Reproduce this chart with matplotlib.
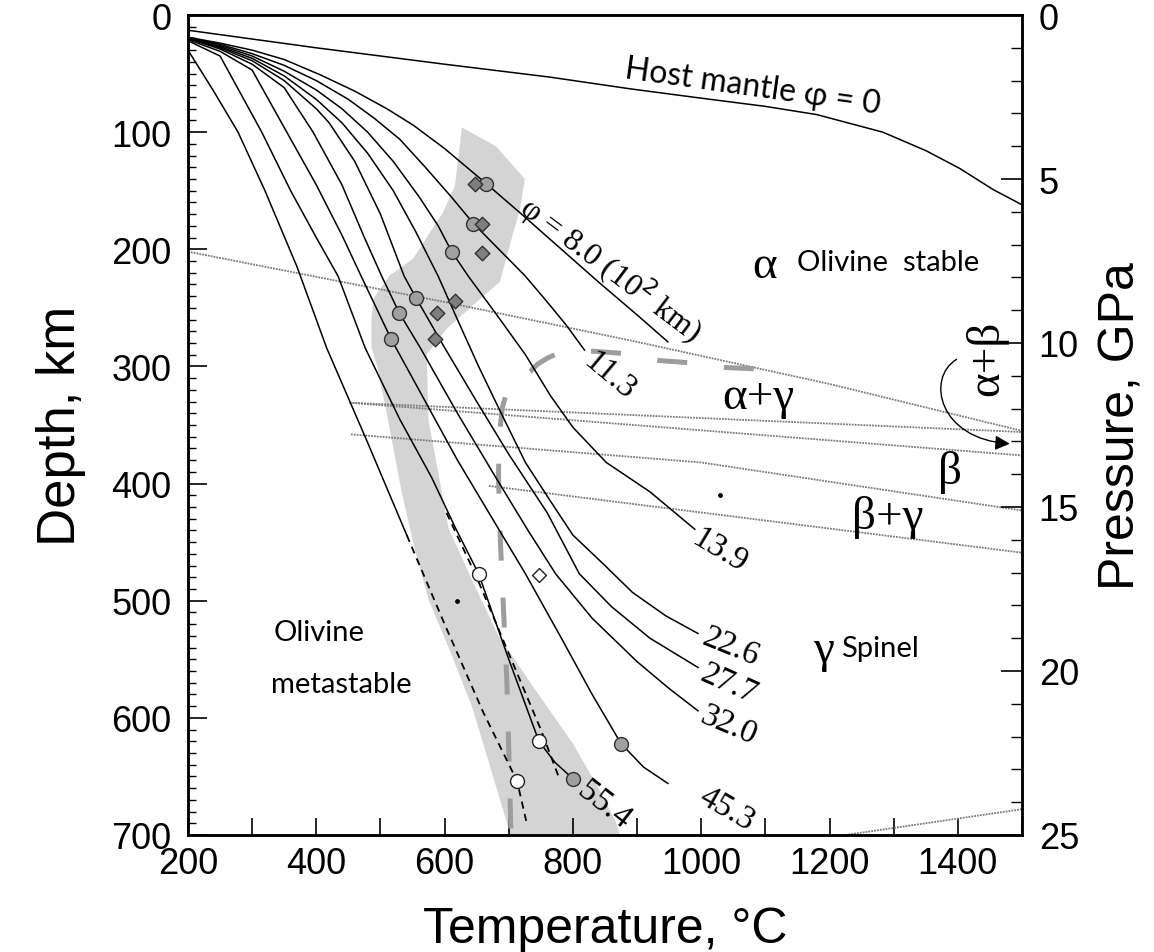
import matplotlib
matplotlib.use("Agg")
import matplotlib.pyplot as plt
from matplotlib.patches import Polygon, FancyArrowPatch
from matplotlib.path import Path

SANS = "Liberation Sans"
SERIF = "Liberation Serif"
HAND = "Lato"

# ---------------- data (Temperature degC, depth km) ----------------
host_T = [200, 400, 600, 764, 889, 1000, 1100, 1180, 1283, 1351, 1403, 1455, 1500]
host_z = [13, 28, 42, 53, 63, 71, 78, 85, 100, 116, 131, 149, 162]

phi_labels = ["8.0", "11.3", "13.9", "22.6", "27.7", "32.0", "45.3", "55.4"]
phi_T = [
    [200, 250, 300, 350, 406, 460, 510, 551, 600, 665, 720, 780, 840, 900, 948],
    [200, 250, 300, 350, 400, 450, 490, 530, 570, 610, 645, 690, 726, 760, 790, 818],
    [200, 250, 300, 350, 400, 440, 480, 520, 560, 590, 611, 637, 680, 726, 765, 800, 852, 920, 990],
    [200, 250, 300, 350, 400, 440, 480, 520, 555, 590, 620, 653, 690, 726, 765, 800, 850, 893, 945, 995],
    [200, 250, 300, 350, 400, 420, 460, 500, 537, 556, 600, 650, 700, 760, 810, 860, 920, 995],
    [200, 250, 300, 350, 395, 440, 475, 502, 529, 562, 620, 680, 730, 773, 830, 900, 950, 995],
    [200, 250, 300, 354, 400, 440, 470, 517, 560, 620, 680, 726, 780, 830, 875, 910, 948],
    [200, 250, 315, 360, 400, 434, 476, 530, 580, 617, 653, 700, 747, 772, 800],
]
phi_z = [
    [19, 24, 30, 38, 51, 65, 80, 94, 114, 144, 170, 199, 228, 256, 279],
    [19, 25, 33, 43, 56, 72, 88, 106, 130, 155, 178, 203, 223, 245, 265, 286],
    [19, 26, 35, 48, 64, 80, 100, 125, 155, 180, 202, 223, 255, 290, 325, 352, 382, 407, 439],
    [20, 27, 37, 52, 72, 92, 118, 150, 185, 223, 260, 300, 342, 382, 415, 444, 470, 493, 513, 528],
    [20, 28, 39, 56, 80, 92, 125, 170, 223, 242, 284, 330, 375, 425, 477, 505, 532, 557],
    [20, 29, 42, 62, 100, 145, 190, 223, 254, 284, 340, 395, 440, 477, 515, 552, 575, 594],
    [21, 31, 47, 100, 145, 188, 223, 277, 320, 380, 435, 477, 530, 580, 622, 642, 656],
    [22, 35, 100, 150, 190, 223, 284, 345, 395, 438, 477, 550, 620, 638, 652],
]
steep_T = [200, 240, 278, 320, 370, 416, 480, 541]
steep_z = [30, 65, 100, 150, 215, 284, 365, 444]
dash1_T = [541, 600, 660, 713, 728]
dash1_z = [444, 520, 595, 654, 690]
dash2_T = [603, 650, 700, 750, 779]
dash2_z = [425, 480, 545, 610, 652]

# phase boundaries (dotted)
pbA_T, pbA_z = [200, 600, 900, 1200, 1500], [202, 245, 279, 315, 355]
pbB_T, pbB_z = [452, 1500], [331, 356]
pbC_T, pbC_z = [452, 1500], [331, 376]
pbD_T, pbD_z = [454, 1000, 1500], [358, 382, 423]
pbE_T, pbE_z = [669, 1500], [402, 459]
pbF_T, pbF_z = [1225, 1500], [700, 678]

# metastable boundary (thick grey dashes)
meta_T = [1082, 1040, 985, 935, 880, 831, 790, 776, 760, 745, 734, 712, 698,
          690, 685, 684, 687, 692, 697, 700, 703, 704]
meta_z = [302, 301, 297, 295, 289, 287, 287, 289, 293, 298, 304, 312, 320,
          335, 360, 395, 450, 510, 568, 626, 690, 700]

# shaded region
shade_T = [627, 680, 725, 718, 707, 686, 650, 603, 572, 575, 606, 645, 684,
           740, 800, 840, 868, 873, 701, 700, 670, 643, 610, 575, 553, 533,
           512, 495, 486, 486, 489, 515, 551, 598, 616]
shade_z = [96, 112, 140, 165, 186, 228, 245, 268, 290, 346, 438, 485, 530,
           575, 622, 660, 690, 700, 700, 695, 640, 591, 545, 499, 455, 407,
           346, 300, 284, 260, 242, 222, 208, 168, 146]

fc_T = [665, 645, 611, 556, 529, 517, 875, 800]
fc_z = [144, 178, 202, 242, 254, 277, 622, 652]
fd_T = [647, 658, 658, 616, 588, 585]
fd_z = [144, 178, 203, 244, 254, 277]
oc_T = [653, 747, 713]
oc_z = [477, 620, 654]
od_T = [747]
od_z = [478]
dots_T = [619, 1030]
dots_z = [500, 410]

# ---------------- figure ----------------
fig = plt.figure(figsize=(11.54, 9.53), dpi=100)
ax = fig.add_axes([0.1629, 0.1228, 0.7227, 0.8604])
ax.set_xlim(200, 1500)
ax.set_ylim(700, 0)

ax.add_patch(Polygon(list(zip(shade_T, shade_z)), closed=True,
                     facecolor="#d4d4d4", edgecolor="none", zorder=1))

dot_kw = dict(color="#7a7a7a", lw=1.3, ls=(0, (1, 0.6)), zorder=2)
for T, z in [(pbA_T, pbA_z), (pbB_T, pbB_z), (pbC_T, pbC_z),
             (pbD_T, pbD_z), (pbE_T, pbE_z), (pbF_T, pbF_z)]:
    ax.plot(T, z, **dot_kw)

ax.plot(meta_T, meta_z, color="#9d9d9d", lw=3.6, ls=(0, (6.0, 7.4)),
        solid_capstyle="butt", dash_capstyle="butt", zorder=2)

ax.plot(host_T, host_z, color="black", lw=1.1, zorder=3)
for T, z in zip(phi_T, phi_z):
    ax.plot(T, z, color="black", lw=1.1, zorder=3)
ax.plot(steep_T, steep_z, color="black", lw=1.1, zorder=3)
ax.plot(dash1_T, dash1_z, color="black", lw=1.3, ls=(0, (4, 3)), zorder=3)
ax.plot(dash2_T, dash2_z, color="black", lw=1.3, ls=(0, (4, 3)), zorder=3)

ax.scatter(fc_T, fc_z, s=100, marker="o", facecolor="#a0a0a0",
           edgecolor="#303030", linewidth=1.0, zorder=5)
ax.scatter(fd_T, fd_z, s=55, marker="D", facecolor="#7e7e7e",
           edgecolor="#303030", linewidth=1.0, zorder=5)
ax.scatter(oc_T, oc_z, s=100, marker="o", facecolor="white",
           edgecolor="#202020", linewidth=1.0, zorder=5)
ax.scatter(od_T, od_z, s=50, marker="D", facecolor="white",
           edgecolor="#202020", linewidth=1.0, zorder=5)
ax.scatter(dots_T, dots_z, s=6, color="black", zorder=5)

# ---------------- annotations ----------------
ax.text(1081, 61, "Host mantle φ = 0", family=HAND, fontsize=23,
        rotation=-8, ha="center", va="center", zorder=6)
ax.text(723, 160, "φ = 8.0 (10$^2$ km)", family=SERIF, fontsize=23,
        rotation=-37, ha="left", va="center", rotation_mode="anchor", zorder=6)
lab_pos = [(822, 292, -40), (990, 444, -31), (1003, 530, -22), (1001, 560, -24),
           (1001, 596, -23), (1001, 665, -30), (813, 659, -38)]
for (T, z, r), s in zip(lab_pos, phi_labels[1:]):
    ax.text(T, z, s, family=SERIF, fontsize=24, rotation=r,
            ha="left", va="center", rotation_mode="anchor", zorder=6)

ax.text(1099, 214, "α", family=SERIF, fontsize=34, ha="center", va="center")
ax.text(1149, 211, "Olivine  stable", family=HAND, fontsize=21,
        ha="left", va="center")
ax.text(1089, 326, "α+γ", family=SERIF, fontsize=34, ha="center", va="center")
ax.text(1445, 292, "α+β", family=SERIF, fontsize=34, ha="center", va="center",
        rotation=90)
ax.text(1388, 390, "β", family=SERIF, fontsize=34, ha="center", va="center")
ax.text(1290, 428, "β+γ", family=SERIF, fontsize=34, ha="center", va="center")
ax.text(1190, 542, "γ", family=SERIF, fontsize=34, ha="center", va="center")
ax.text(1218, 540, "Spinel", family=HAND, fontsize=21, ha="left", va="center")
ax.text(475, 527, "Olivine", family=HAND, fontsize=21, ha="right", va="center")
ax.text(549, 571, "metastable", family=HAND, fontsize=21, ha="right", va="center")

arc_path = Path([(1398, 294), (1350, 310), (1370, 362), (1481, 366)],
                [Path.MOVETO, Path.CURVE4, Path.CURVE4, Path.CURVE4])
ax.add_patch(FancyArrowPatch(path=arc_path, arrowstyle="-|>", mutation_scale=22,
                             color="black", lw=1.0, zorder=6))

# ---------------- axes ----------------
ax.set_xticks(range(200, 1401, 200))
ax.set_xticks(range(200, 1501, 100), minor=True)
ax.set_yticks(range(0, 701, 100))
ax.set_yticks(range(0, 701, 10), minor=True)
ax.tick_params(axis="both", which="both", direction="in", top=False, right=False)
ax.tick_params(axis="x", which="both", length=12, width=1.2, labelsize=26, pad=8)
ax.tick_params(axis="y", which="major", length=14, width=1.2, labelsize=26, pad=12)
ax.tick_params(axis="y", which="minor", length=6, width=1.0)
for lab in ax.get_xticklabels() + ax.get_yticklabels():
    lab.set_family(SANS)
for sp in ax.spines.values():
    sp.set_linewidth(1.8)

ax.set_xlabel("Temperature, °C", family=SANS, fontsize=36, labelpad=18)
ax.set_ylabel("Depth, km", family=SANS, fontsize=38, labelpad=18)

ax2 = ax.twinx()
ax2.set_ylim(25, 0)
ax2.set_yticks(range(0, 26, 5))
ax2.set_yticks(range(0, 26, 1), minor=True)
ax2.tick_params(axis="y", which="major", direction="in", length=15, width=1.2,
                labelsize=26, pad=12)
ax2.tick_params(axis="y", which="minor", direction="in", length=8, width=1.0)
for lab in ax2.get_yticklabels():
    lab.set_family(SANS)
for sp in ax2.spines.values():
    sp.set_linewidth(1.8)
ax2.set_ylabel("Pressure, GPa", family=SANS, fontsize=36, labelpad=14)

fig.savefig("out.png", dpi=100)
